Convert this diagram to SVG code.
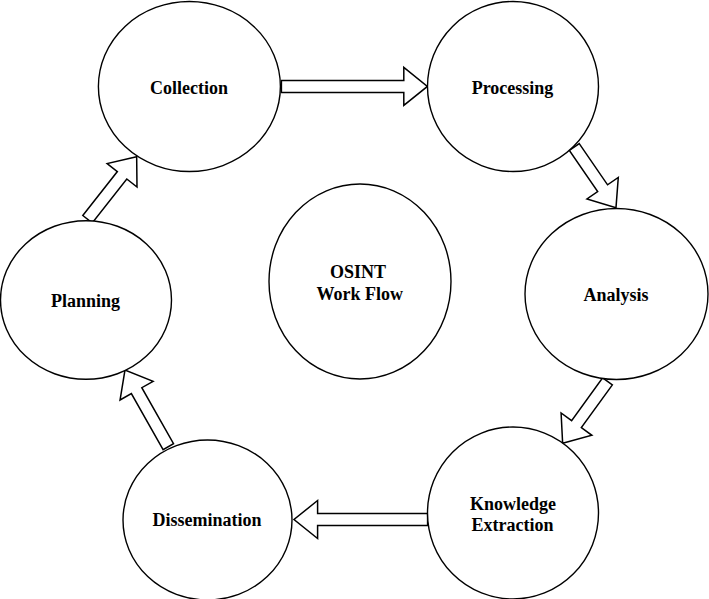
<svg xmlns="http://www.w3.org/2000/svg" width="709" height="599" viewBox="0 0 709 599">
<style>
.n{fill:#fff;stroke:#000;stroke-width:1.4}
.t{font-family:"Liberation Serif","Times New Roman",serif;font-weight:bold;font-size:18px;text-anchor:middle;fill:#000}
.a{fill:#fff;stroke:#000;stroke-width:1.5;stroke-linejoin:miter}
</style>
<rect width="709" height="599" fill="#fff"/>
<g id="connectors">
<path class="a" transform="translate(281.4,86.4)" d="M0,-6 H122.4 V-19 L146,0 L122.4,19 V6 H0 Z"/>
<path class="a" transform="translate(574.3,147) rotate(55.5)" d="M0,-6 H50 V-19 L73.6,0 L50,19 V6 H0 Z"/>
<path class="a" transform="translate(607.5,381.3) rotate(125.9)" d="M0,-6 H52.9 V-19 L76.5,0 L52.9,19 V6 H0 Z"/>
<path class="a" transform="translate(427.6,519.5) rotate(180)" d="M0,-6 H110 V-19 L133.6,0 L110,19 V6 H0 Z"/>
<path class="a" transform="translate(168.3,446.7) rotate(-119.5)" d="M0,-6 H64.4 V-19 L88,0 L64.4,19 V6 H0 Z"/>
<path class="a" transform="translate(87.5,219.2) rotate(-51.8)" d="M0,-6 H55.9 V-19 L79.5,0 L55.9,19 V6 H0 Z"/>
</g>
<g id="collection"><ellipse class="n" cx="189.4" cy="86.5" rx="91" ry="85"/><text class="t" x="189" y="94">Collection</text></g>
<g id="processing"><ellipse class="n" cx="513" cy="86.5" rx="85.5" ry="85"/><text class="t" x="512.5" y="94">Processing</text></g>
<g id="planning"><ellipse class="n" cx="86" cy="300" rx="85.5" ry="79.3"/><text class="t" x="85.5" y="307">Planning</text></g>
<g id="osint"><ellipse class="n" cx="360" cy="281.5" rx="91" ry="97.5"/><text class="t" x="358" y="278">OSINT</text><text class="t" x="359.7" y="299.5">Work Flow</text></g>
<g id="analysis"><ellipse class="n" cx="616.5" cy="294" rx="91.5" ry="85.5"/><text class="t" x="616" y="301">Analysis</text></g>
<g id="dissemination"><ellipse class="n" cx="207.5" cy="520" rx="84.5" ry="80"/><text class="t" x="207" y="526">Dissemination</text></g>
<g id="knowledge"><ellipse class="n" cx="513" cy="513" rx="85.5" ry="86"/><text class="t" x="513" y="510">Knowledge</text><text class="t" x="512.5" y="531">Extraction</text></g>
</svg>
